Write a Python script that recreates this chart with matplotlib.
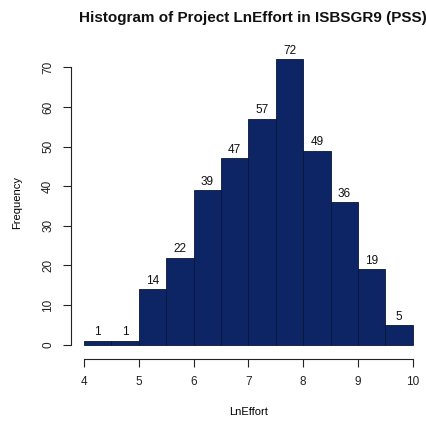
import numpy as np
import matplotlib.pyplot as plt

plt.rcParams['font.family'] = ['Liberation Sans', 'DejaVu Sans']

# LnEffort histogram, bins of width 0.5 from 4 to 10
bin_edges = [4.0, 4.5, 5.0, 5.5, 6.0, 6.5, 7.0, 7.5, 8.0, 8.5, 9.0, 9.5, 10.0]
counts = [1, 1, 14, 22, 39, 47, 57, 72, 49, 36, 19, 5]
x_ticks = [4, 5, 6, 7, 8, 9, 10]
y_ticks = [0, 10, 20, 30, 40, 50, 60, 70]

fig = plt.figure(figsize=(4.26, 4.21), dpi=100)
ax = fig.add_axes([0.166, 0.154, 0.834, 0.732])

left = np.array(bin_edges[:-1])
width = np.diff(bin_edges)
bars = ax.bar(left, counts, width=width, align='edge', color='#0d2564',
              edgecolor='#08163a', linewidth=0.6)
for b, c in zip(bars, counts):
    ax.text(b.get_x() + b.get_width() / 2, c + 0.6, str(c), ha='center',
            va='bottom', fontsize=8.5, color='#111111')

ax.set_xlim(3.76, 10.24)
ax.set_ylim(-2.88, 74.88)
ax.set_xticks(x_ticks)
ax.set_yticks(y_ticks)
ax.tick_params(labelsize=8.5, length=6, width=0.8, colors='#222222', pad=6)
ax.tick_params(axis='y', labelrotation=90)
for lbl in ax.get_yticklabels():
    lbl.set_va('center')

for s in ['top', 'right']:
    ax.spines[s].set_visible(False)
ax.spines['left'].set_bounds(0, 70)
ax.spines['bottom'].set_bounds(4, 10)
ax.spines['bottom'].set_position(('outward', 2))
for s in ['left', 'bottom']:
    ax.spines[s].set_linewidth(0.8)
    ax.spines[s].set_color('#222222')

ax.set_xlabel('LnEffort', fontsize=8, labelpad=14)
ax.set_ylabel('Frequency', fontsize=8, labelpad=14)
fig.suptitle('Histogram of Project LnEffort in ISBSGR9 (PSS)', x=0.593, y=0.975,
             fontsize=11, fontweight='bold', color='#111111')

fig.savefig('out.png', dpi=100)
